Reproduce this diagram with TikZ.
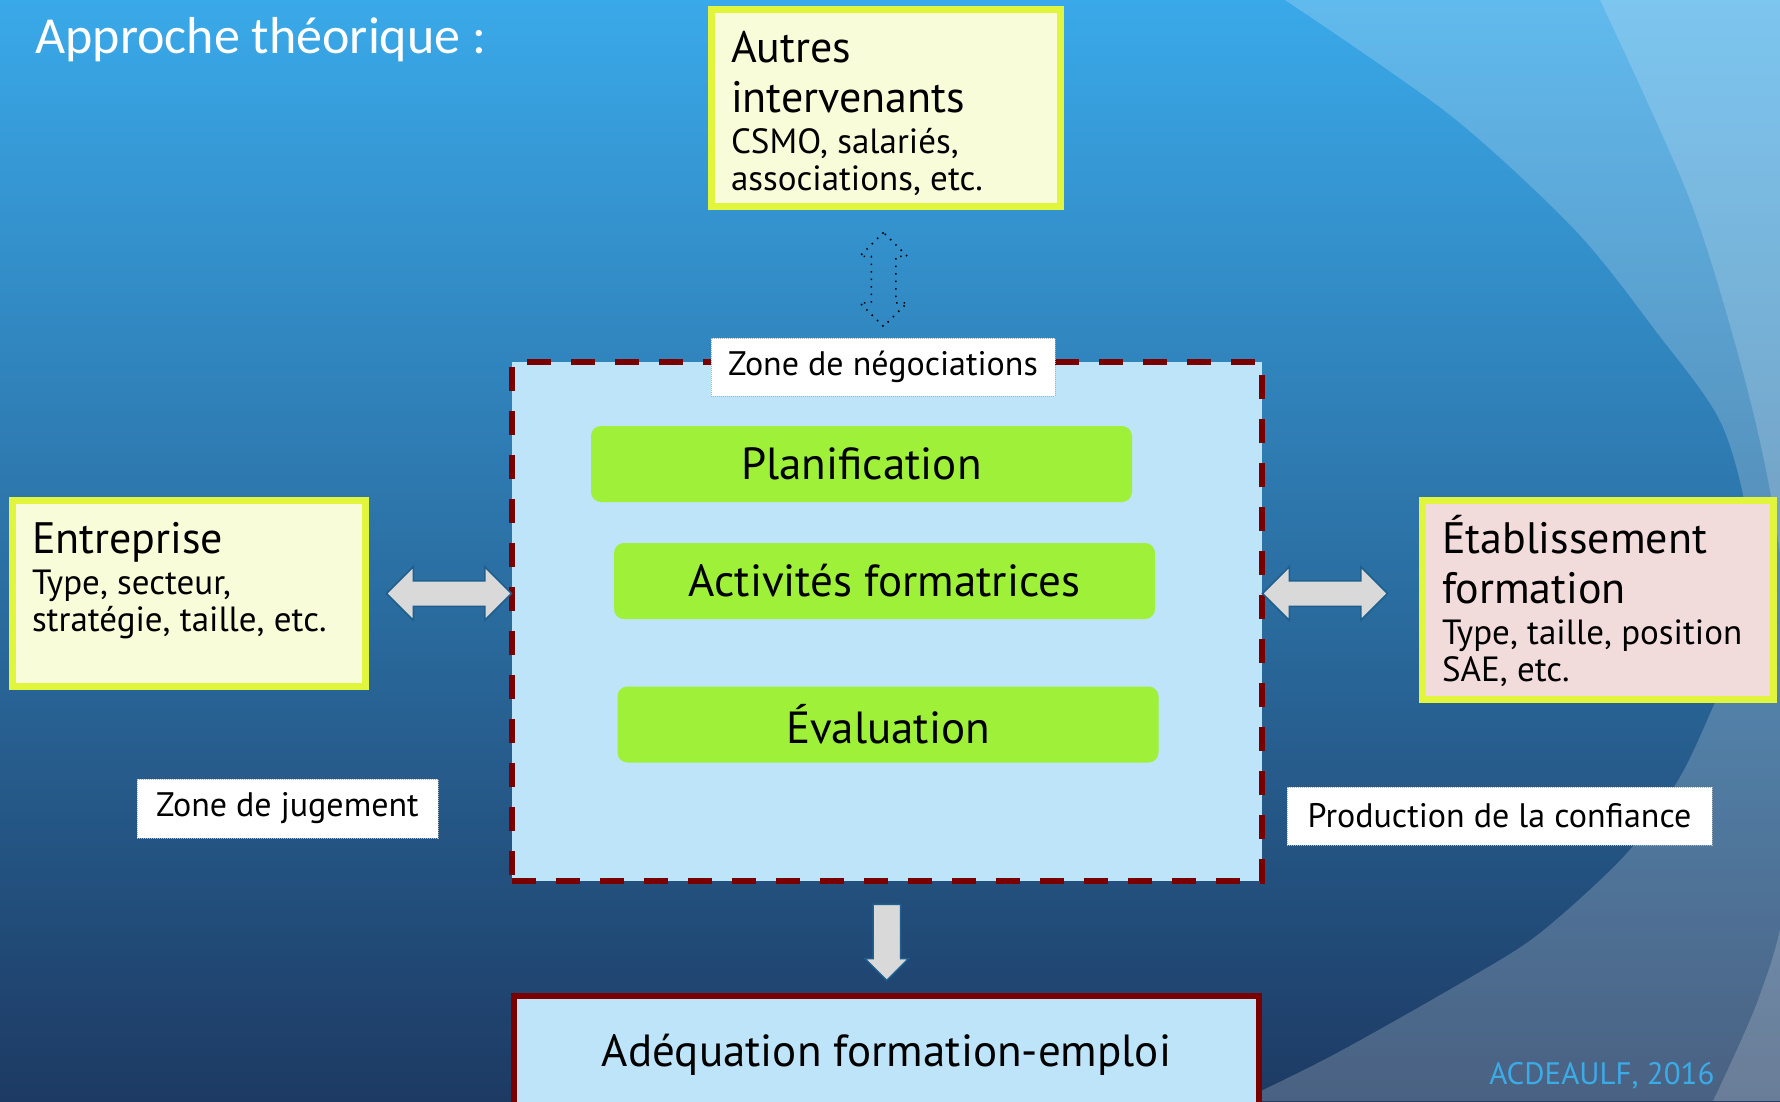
\documentclass[tikz,border=0pt]{standalone}
\usepackage{fontspec}
\setmainfont{PT Sans}
\newfontfamily\titlefont{Carlito}
\usetikzlibrary{shapes.arrows, calc}

\definecolor{bgtop}{RGB}{58,169,233}
\definecolor{bgbot}{RGB}{29,58,99}
\definecolor{boxrim}{RGB}{224,245,60}
\definecolor{boxcream}{RGB}{248,252,216}
\definecolor{boxpink}{RGB}{242,220,219}
\definecolor{steplime}{RGB}{158,240,56}
\definecolor{zoneblue}{RGB}{189,228,248}
\definecolor{zonered}{RGB}{122,0,0}
\definecolor{arrowgrey}{RGB}{217,217,217}
\definecolor{arrowrim}{RGB}{31,95,142}
\definecolor{creditblue}{RGB}{59,171,232}

\newcommand{\headfont}{\fontsize{44}{50}\selectfont}
\newcommand{\subfont}{\fontsize{35}{37}\selectfont}
\newcommand{\boxtext}[4]{\parbox[c][#1][t]{#2}{\raggedright{\headfont\rule{0pt}{42pt}#3\par}\vspace{4pt}{\subfont #4\par}}}

\tikzset{
	info-box/.style={
		rectangle,
		draw=boxrim, line width=7pt,
		fill=boxcream,
		inner xsep=19.5pt, inner ysep=10.5pt,
		anchor=north west
	},
	step-box/.style={
		rectangle,
		rounded corners=10pt,
		fill=steplime,
		minimum width=541pt, minimum height=76pt,
		font=\fontsize{45}{54}\selectfont
	},
	tag-box/.style={
		rectangle,
		fill=white,
		draw=gray!60, dash pattern=on 1pt off 1pt, line width=0.8pt,
		font=\fontsize{34}{40}\selectfont
	},
	block-arrow/.style={
		double arrow,
		fill=arrowgrey, draw=arrowrim, line width=1.5pt,
		inner xsep=0pt, inner ysep=12pt,
		double arrow head extend=14pt,
		double arrow tip angle=90,
		minimum height=125pt
	},
	down-arrow/.style={
		single arrow,
		fill=arrowgrey, draw=arrowrim, line width=1.5pt,
		inner xsep=0pt, inner ysep=13pt,
		single arrow head extend=8pt,
		single arrow tip angle=90,
		minimum height=76pt,
		rotate=-90
	},
	dotted-arrow/.style={
		double arrow,
		draw=black, line width=1.5pt, dash pattern=on 1.5pt off 6pt,
		inner xsep=0pt, inner ysep=11.5pt,
		double arrow head extend=11.5pt,
		double arrow tip angle=90,
		minimum height=94pt,
		rotate=90
	},
}

\begin{document}
\begin{tikzpicture}[x=1pt, y=-1pt]
	\useasboundingbox (0,0) rectangle (1780,1101);
	\clip (0,0) rectangle (1780,1101);
	% background
	\shade[top color=bgtop, bottom color=bgbot] (0,0) rectangle (1780,1101);
	\fill[white, opacity=0.2] plot[smooth] coordinates {(1285,0) (1450,115) (1575,230) (1655,330) (1722,425) (1750,540) (1738,650) (1713,707) (1680,777) (1627,853) (1540,933) (1466,980) (1335,1054) (1240,1101)} -- (1780,1101) -- (1780,0) -- cycle;
	\fill[white, opacity=0.18] plot[smooth] coordinates {(1600,0) (1690,200) (1745,380) (1775,520) (1795,700) (1785,900) (1758,1000) (1713,1101)} -- (1800,1101) -- (1800,0) -- cycle;

	\node (title) at (32,53) [anchor=base west, text=white, font=\titlefont\fontsize{52}{60}\selectfont] {Approche théorique :};

	% zone de negociations
	\node (zone) at (887,621.5) [draw=zonered, line width=6pt, dash pattern=on 24pt off 20pt, fill=zoneblue, minimum width=750pt, minimum height=519pt] {};
	\node (neg) at (883,367) [tag-box, minimum width=344pt, minimum height=58pt] {Zone de négociations};
	\node (plan) at (861.5,464) [step-box] {Planification};
	\node (act) at (884.5,581) [step-box] {Activités formatrices};
	\node (eval) at (888,724.5) [step-box] {Évaluation};

	% acteurs
	\node (autres) at (708,6) [info-box] {\boxtext{176pt}{310pt}{Autres\\intervenants}{CSMO, salariés,\\associations, etc.}};
	\node (ent) at (9,497) [info-box] {\boxtext{165pt}{314pt}{Entreprise}{Type, secteur,\\stratégie, taille, etc.}};
	\node (etab) at (1419,497) [info-box, fill=boxpink] {\boxtext{178pt}{312pt}{Établissement\\formation}{Type, taille, position\\SAE, etc.}};

	\node (adeq) at (886.5,1054.5) [draw=zonered, line width=6pt, fill=zoneblue, minimum width=745pt, minimum height=117pt, font=\fontsize{45}{54}\selectfont] {Adéquation formation-emploi};

	\node (jug) at (287.5,808.5) [tag-box, minimum width=301pt, minimum height=59pt] {Zone de jugement};
	\node (conf) at (1499.5,816) [tag-box, minimum width=425pt, minimum height=58pt] {Production de la confiance};

	% fleches
	\node (arrU) [dotted-arrow] at ($(autres.south)!0.5!(zone.north)+(-3,-5)$) {};
	\node (arrL) [block-arrow] at ($(zone.west |- ent)+(-60,0)$) {};
	\node (arrR) [block-arrow] at ($(zone.east |- ent)+(60,0)$) {};
	\node (arrD) [down-arrow] at ($(zone.south)!0.5!(adeq.north)+(0,-3)$) {};

	\node (credit) at (1718,1084) [anchor=base east, text=creditblue, font=\fontsize{31}{36}\selectfont] {ACDEAULF, 2016};
\end{tikzpicture}
\end{document}
